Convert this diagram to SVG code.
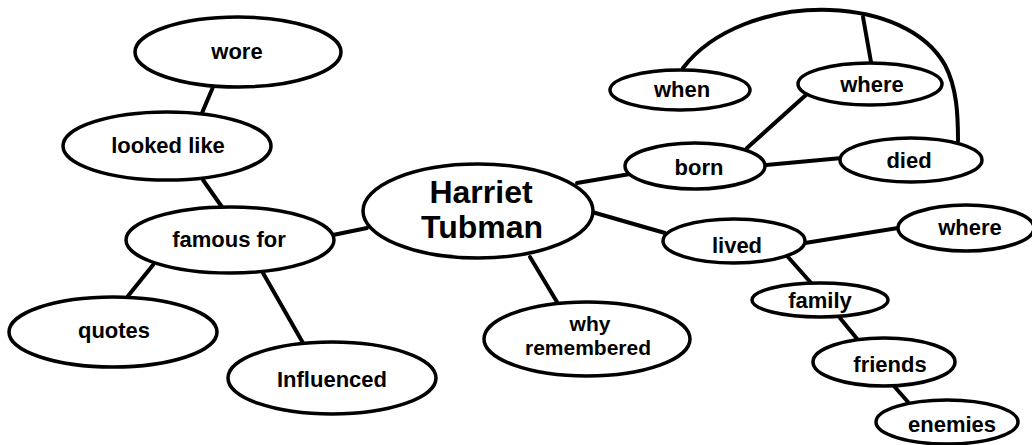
<svg xmlns="http://www.w3.org/2000/svg" width="1032" height="445" viewBox="0 0 1032 445">
  <style>
    .node ellipse { fill: #fff; stroke: #000; stroke-width: 3.5; }
    .node text { font-family: "Liberation Sans", Arial, sans-serif; font-weight: bold; font-size: 22px; fill: #000; text-anchor: middle; }
    .node.main text { font-size: 32px; }
    .node.twoline text { font-size: 21px; }
    #connectors line, #connectors path { stroke: #000; stroke-width: 4; fill: none; stroke-linecap: round; }
  </style>
  <rect width="1032" height="445" fill="#fff"/>

  <g id="connectors">
    <line x1="213" y1="87" x2="202" y2="113"/>
    <line x1="203" y1="180" x2="222" y2="207"/>
    <line x1="333" y1="235" x2="367" y2="228"/>
    <line x1="153" y1="265" x2="128" y2="296"/>
    <line x1="263" y1="273" x2="303" y2="343"/>
    <line x1="530" y1="257" x2="557" y2="302"/>
    <line x1="577" y1="183" x2="630" y2="174"/>
    <line x1="592" y1="212" x2="665" y2="233"/>
    <line x1="747" y1="148" x2="807" y2="94"/>
    <line x1="766" y1="165" x2="842" y2="158"/>
    <path d="M683,68 C712,30 770,8 830,10 C880,12 925,30 945,65 C957,88 958,115 958,141"/>
    <line x1="863" y1="17" x2="871" y2="62"/>
    <line x1="805" y1="243" x2="898" y2="228"/>
    <line x1="788" y1="257" x2="812" y2="284"/>
    <line x1="840" y1="318" x2="858" y2="340"/>
    <line x1="893" y1="385" x2="908" y2="402"/>
  </g>

  <g id="node-wore" class="node">
    <ellipse cx="238" cy="52" rx="103" ry="35"/>
    <text x="237" y="59">wore</text>
  </g>
  <g id="node-looked-like" class="node">
    <ellipse cx="167" cy="146" rx="104" ry="34"/>
    <text x="168" y="153">looked like</text>
  </g>
  <g id="node-famous-for" class="node">
    <ellipse cx="230" cy="240" rx="104" ry="33"/>
    <text x="229" y="247">famous for</text>
  </g>
  <g id="node-quotes" class="node">
    <ellipse cx="113" cy="332" rx="104" ry="35"/>
    <text x="114" y="338">quotes</text>
  </g>
  <g id="node-influenced" class="node">
    <ellipse cx="332" cy="378" rx="104" ry="36"/>
    <text x="332" y="387">Influenced</text>
  </g>
  <g id="node-harriet-tubman" class="node main">
    <ellipse cx="478" cy="211" rx="115" ry="47"/>
    <text x="481" y="203">Harriet</text>
    <text x="482" y="238">Tubman</text>
  </g>
  <g id="node-why-remembered" class="node twoline">
    <ellipse cx="587" cy="339" rx="103" ry="37"/>
    <text x="590" y="331">why</text>
    <text x="588" y="355">remembered</text>
  </g>
  <g id="node-when" class="node">
    <ellipse cx="680" cy="90" rx="70" ry="20"/>
    <text x="682" y="97">when</text>
  </g>
  <g id="node-where-born" class="node">
    <ellipse cx="870" cy="84" rx="72" ry="21"/>
    <text x="872" y="92">where</text>
  </g>
  <g id="node-born" class="node">
    <ellipse cx="695" cy="166" rx="70" ry="23"/>
    <text x="699" y="175">born</text>
  </g>
  <g id="node-died" class="node">
    <ellipse cx="911" cy="160" rx="71" ry="22"/>
    <text x="909" y="168">died</text>
  </g>
  <g id="node-lived" class="node">
    <ellipse cx="734" cy="241" rx="71" ry="22"/>
    <text x="737" y="253">lived</text>
  </g>
  <g id="node-where-lived" class="node">
    <ellipse cx="966" cy="228" rx="68" ry="23"/>
    <text x="970" y="235">where</text>
  </g>
  <g id="node-family" class="node">
    <ellipse cx="820" cy="300" rx="68" ry="17"/>
    <text x="820" y="308">family</text>
  </g>
  <g id="node-friends" class="node">
    <ellipse cx="884" cy="362" rx="71" ry="24"/>
    <text x="890" y="372">friends</text>
  </g>
  <g id="node-enemies" class="node">
    <ellipse cx="947" cy="422" rx="71" ry="22"/>
    <text x="952" y="432">enemies</text>
  </g>
</svg>
